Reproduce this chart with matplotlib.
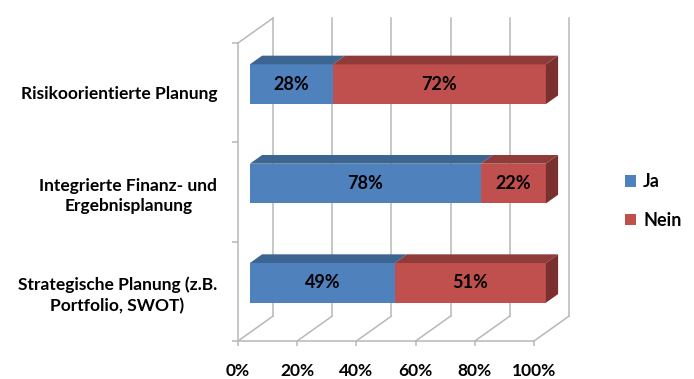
import matplotlib.pyplot as plt
from matplotlib.patches import Polygon

# data
categories = ['Strategische Planung (z.B.\nPortfolio, SWOT)',
              'Integrierte Finanz- und\nErgebnisplanung',
              'Risikoorientierte Planung']
ja = [49, 78, 28]
nein = [51, 22, 72]
xticks = [0, 20, 40, 60, 80, 100]
xlabels = ['0%', '20%', '40%', '60%', '80%', '100%']

plt.rcParams['font.family'] = ['Lato', 'DejaVu Sans']
plt.rcParams['font.weight'] = 'bold'

blue, blue_top = '#4F81BD', '#3C6592'
red, red_top, red_side = '#C0504D', '#8E3B39', '#7A302E'
grid = '#B8B8B8'

# oblique depth of the 3d box (in data units)
DX, DY = 11.8, 0.25
d0, d1 = 0.34, 0.69          # bar front / back depth
bh = 0.40                    # bar height

fig = plt.figure(figsize=(6.94, 3.79), dpi=100)
ax = fig.add_axes([238/694, 38/379, 296/694, 298/379])
ax.set_xlim(0, 100)
ax.set_ylim(0, 3)

# walls and floor
for t in xticks:
    ax.plot([t + DX, t + DX], [DY, 3 + DY], color=grid, lw=1.1, clip_on=False, zorder=1)
    ax.plot([t, t + DX], [0, DY], color=grid, lw=1.1, clip_on=False, zorder=1)
ax.plot([0, DX], [3, 3 + DY], color=grid, lw=1.1, clip_on=False, zorder=1)

for s in ['top', 'right']:
    ax.spines[s].set_visible(False)
for s in ['left', 'bottom']:
    ax.spines[s].set_color(grid)
    ax.spines[s].set_linewidth(1.1)

ax.set_xticks(xticks, xlabels)
ax.tick_params(axis='x', direction='out', length=3.6, width=1.1, color=grid,
               pad=12, labelsize=12.5)
ax.set_yticks([0.5, 1.5, 2.5], categories)
ax.set_yticks([0, 1, 2, 3], minor=True)
ax.tick_params(axis='y', which='major', length=0, pad=15, labelsize=12.5)
ax.tick_params(axis='y', which='minor', direction='out', length=4.3, width=1.1, color=grid)
for lbl in ax.get_yticklabels():
    lbl.set_multialignment('center')
    lbl.set_linespacing(1.35)

# bars
ypos = [i + 0.5 + d0 * DY for i in range(len(categories))]
x0 = d0 * DX
ddx, ddy = (d1 - d0) * DX, (d1 - d0) * DY
h_ja = ax.barh(ypos, ja, left=x0, height=bh, color=blue, zorder=3, label='Ja', clip_on=False)
h_nein = ax.barh(ypos, nein, left=[x0 + j for j in ja], height=bh, color=red, zorder=3,
                 label='Nein', clip_on=False)

for y, j, n in zip(ypos, ja, nein):
    top, bot = y + bh / 2, y - bh / 2
    for a, b, c in [(x0, x0 + j, blue_top), (x0 + j, x0 + j + n, red_top)]:
        ax.add_patch(Polygon([(a, top), (b, top), (b + ddx, top + ddy), (a + ddx, top + ddy)],
                             closed=True, color=c, zorder=3, clip_on=False, lw=0))
    e = x0 + j + n
    ax.add_patch(Polygon([(e, bot), (e, top), (e + ddx, top + ddy), (e + ddx, bot + ddy)],
                         closed=True, color=red_side, zorder=3, clip_on=False, lw=0))
    ax.text(x0 + j / 2, y, f'{j}%', ha='center', va='center', fontsize=13, zorder=5)
    ax.text(x0 + j + n / 2, y, f'{n}%', ha='center', va='center', fontsize=13, zorder=5)

fig.legend(handles=[h_ja, h_nein], loc='center left', bbox_to_anchor=(625/694, 1 - 201/379),
           frameon=False, handlelength=0.6, handleheight=0.6, handletextpad=0.4,
           labelspacing=1.2, fontsize=13, borderpad=0, borderaxespad=0)

plt.savefig('out.png', dpi=100)
